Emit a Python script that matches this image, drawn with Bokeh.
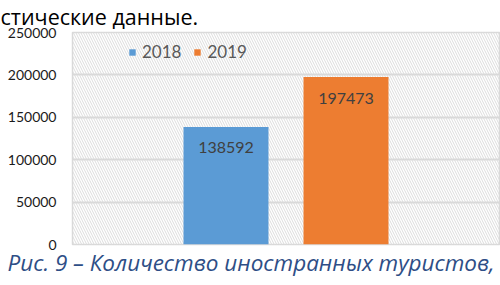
from bokeh.plotting import figure
from bokeh.models import (Range1d, FixedTicker, ColumnDataSource, LabelSet, Title,
                          Legend, LegendItem, BoxAnnotation, NumeralTickFormatter)
from bokeh.core.properties import value
from bokeh.embed import file_html
from bokeh.resources import INLINE

# ---- data ----
years = ["2018", "2019"]
tourists = [138592, 197473]
colors = ["#5B9BD5", "#ED7D31"]
y_ticks = [0, 50000, 100000, 150000, 200000, 250000]
caption = "Рис. 9 – Количество иностранных туристов,"
top_text = "стические данные."

xs = [i + 0.5 for i in range(len(years))]
src = ColumnDataSource(dict(x=xs, top=tourists, color=colors, year=years,
                            label=[str(v) for v in tourists]))

p = figure(width=500, height=285, output_backend="svg", toolbar_location=None,
           x_range=Range1d(-0.779, 2.779), y_range=Range1d(0, 250000),
           x_axis_location=None,
           min_border_left=72, min_border_right=1, min_border_top=32,
           min_border_bottom=41)
p.background_fill_color = "white"
p.border_fill_color = "white"
p.outline_line_color = "#d9d9d9"
p.outline_line_width = 1.5

hatch = BoxAnnotation(fill_alpha=0, line_alpha=0, hatch_pattern="\\",
                      hatch_color="#dcdcdc", hatch_scale=5, hatch_weight=1,
                      level="image")
p.add_layout(hatch)

p.xgrid.visible = False
p.ygrid.grid_line_color = "#d9d9d9"
p.ygrid.grid_line_width = 2
p.yaxis.ticker = FixedTicker(ticks=y_ticks)
p.yaxis.formatter = NumeralTickFormatter(format="0")
p.yaxis.axis_line_color = None
p.yaxis.major_tick_line_color = None
p.yaxis.minor_tick_line_color = None
p.yaxis.major_tick_out = 0
p.yaxis.major_label_standoff = 16
p.yaxis.major_label_text_font = "Lato"
p.yaxis.major_label_text_font_size = "14px"
p.yaxis.major_label_text_color = "#1a1a1a"

r = p.vbar(x="x", top="top", width=0.708, bottom=0, color="color",
           line_color=None, source=src)

labels = LabelSet(x="x", y="top", text="label", source=src, y_offset=-21,
                  text_align="center", text_baseline="middle",
                  text_font=value("Lato"), text_font_size=value("16px"),
                  text_color=value("#404040"))
p.add_layout(labels)

# legend: one item per bar
items = [LegendItem(label=years[i], renderers=[r], index=i) for i in range(len(years))]
legend = Legend(items=items, orientation="horizontal", location=(56, 182),
                glyph_width=8, glyph_height=8, label_standoff=6, spacing=12,
                padding=0, margin=0, border_line_color=None,
                background_fill_alpha=0, label_text_font="Lato",
                label_text_font_size="17px", label_text_color="#595959",
                label_height=16)
p.add_layout(legend)

top = Title(text=top_text, align="left", offset=-72, standoff=0,
            vertical_align="top",
            text_font="Open Sans", text_font_size="21.5px", text_color="#000000",
            text_font_style="normal")
p.add_layout(top, "above")

cap = Title(text=caption, align="left", offset=-65, standoff=0,
            text_font="Open Sans", text_font_style="italic",
            text_font_size="22.5px", text_color="#2E4E86")
p.add_layout(cap, "below")

open("out.html", "w").write(file_html(p, INLINE))
